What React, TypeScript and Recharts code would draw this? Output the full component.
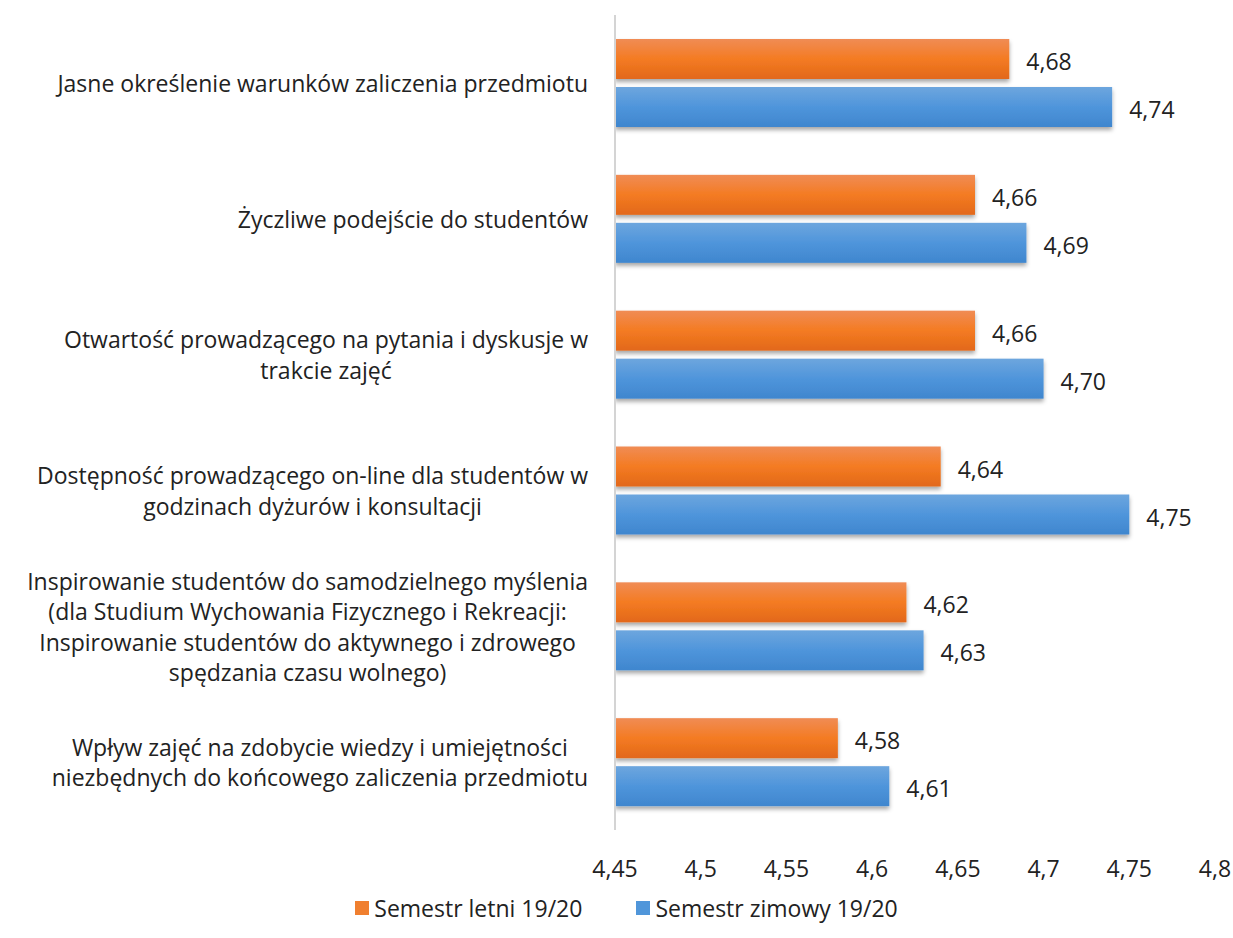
import React from "react";
import { BarChart, Bar, XAxis, YAxis, Legend, LabelList } from "recharts";

const categories = [
  "Jasne określenie warunków zaliczenia przedmiotu",
  "Życzliwe podejście do studentów",
  "Otwartość prowadzącego na pytania i dyskusje w\ntrakcie zajęć",
  "Dostępność prowadzącego on-line dla studentów w\ngodzinach dyżurów i konsultacji",
  "Inspirowanie studentów do samodzielnego myślenia\n(dla Studium Wychowania Fizycznego i Rekreacji:\nInspirowanie studentów do aktywnego i zdrowego\nspędzania czasu wolnego)",
  "Wpływ zajęć na zdobycie wiedzy i umiejętności\nniezbędnych do końcowego zaliczenia przedmiotu",
];
const letni = [4.68, 4.66, 4.66, 4.64, 4.62, 4.58];
const zimowy = [4.74, 4.69, 4.7, 4.75, 4.63, 4.61];
const xTicks = [4.45, 4.5, 4.55, 4.6, 4.65, 4.7, 4.75, 4.8];
const seriesNames = ["Semestr letni 19/20", "Semestr zimowy 19/20"];

const data = categories.map((c, i) => ({ name: c, letni: letni[i], zimowy: zimowy[i] }));

const FONT = "'Open Sans', sans-serif";
const FS = 23;
const TEXT = "#222";

let ctx: CanvasRenderingContext2D | null = null;
function measure(s: string): number {
  if (!ctx) {
    const c = document.createElement("canvas");
    ctx = c.getContext("2d");
  }
  if (!ctx) return s.length * FS * 0.5;
  ctx.font = `${FS}px 'Open Sans'`;
  return ctx.measureText(s).width;
}

const CatTick = (props: any) => {
  const { x, y, payload } = props;
  const lines: string[] = String(payload.value).split("\n");
  const maxW = Math.max(...lines.map(measure));
  const cx = x - maxW / 2;
  const lh = 30.5;
  const startY = y - ((lines.length - 1) * lh) / 2;
  return (
    <text x={cx} y={startY} textAnchor="middle" fontFamily={FONT} fontSize={FS} fill={TEXT} dominantBaseline="central">
      {lines.map((l, i) => (
        <tspan key={i} x={cx} y={startY + i * lh}>
          {l}
        </tspan>
      ))}
    </text>
  );
};

const fmt = (v: number) => v.toFixed(2).replace(".", ",");
const fmtTick = (v: number) => String(v).replace(".", ",");

const ValueLabel = (props: any) => {
  const { x, y, width, height, value } = props;
  return (
    <text x={x + width + 17} y={y + height / 2 + 2} fontFamily={FONT} fontSize={FS} fill={TEXT} dominantBaseline="central">
      {fmt(value)}
    </text>
  );
};

const makeShape = (grad: string) => (props: any) => {
  const { x, y, width, height } = props;
  return <rect x={x} y={y} width={Math.max(0, width)} height={height} fill={`url(#${grad})`} filter="url(#barShadow)" />;
};

const LegendContent = () => {
  const colors = ["#F07F2F", "#5096DA"];
  return (
    <div style={{ display: "flex", justifyContent: "center", alignItems: "center", gap: 54, fontFamily: FONT, fontSize: FS, color: TEXT, paddingLeft: 38 }}>
      {seriesNames.map((n, i) => (
        <div key={n} style={{ display: "flex", alignItems: "center" }}>
          <span style={{ display: "inline-block", width: 14, height: 14, background: colors[i], marginRight: 5 }} />
          <span>{n}</span>
        </div>
      ))}
    </div>
  );
};

export default function App() {
  return (
    <div style={{ position: "absolute", left: 0, top: 0, background: "#fff" }}>
      <BarChart
        width={1233}
        height={938}
        data={data}
        layout="vertical"
        margin={{ top: 15, right: 18, bottom: 2, left: 0 }}
        barCategoryGap={24}
        barGap={8}
        barSize={40}
      >
        <defs>
          <linearGradient id="gOrange" x1="0" y1="0" x2="0" y2="1">
            <stop offset="0%" stopColor="#F08C55" />
            <stop offset="50%" stopColor="#F47B22" />
            <stop offset="100%" stopColor="#E2681A" />
          </linearGradient>
          <linearGradient id="gBlue" x1="0" y1="0" x2="0" y2="1">
            <stop offset="0%" stopColor="#6DA6DE" />
            <stop offset="50%" stopColor="#4F95DB" />
            <stop offset="100%" stopColor="#3F86CE" />
          </linearGradient>
          <filter id="barShadow" x="-5%" y="-20%" width="110%" height="160%">
            <feDropShadow dx="0" dy="3" stdDeviation="2" floodColor="#000" floodOpacity="0.35" />
          </filter>
        </defs>
        <XAxis
          type="number"
          domain={[4.45, 4.8]}
          ticks={xTicks}
          tickFormatter={fmtTick}
          axisLine={false}
          tickLine={false}
          tickMargin={25}
          height={62}
          tick={{ fontFamily: FONT, fontSize: FS, fill: TEXT }}
          allowDataOverflow
        />
        <YAxis
          type="category"
          dataKey="name"
          width={615}
          axisLine={{ stroke: "#d4d4d4", strokeWidth: 2 }}
          tickLine={false}
          tickMargin={21}
          tick={<CatTick />}
          interval={0}
        />
        <Legend verticalAlign="bottom" height={44} content={<LegendContent />} />
        <Bar dataKey="letni" name={seriesNames[0]} isAnimationActive={false} shape={makeShape("gOrange")}>
          <LabelList dataKey="letni" content={<ValueLabel />} />
        </Bar>
        <Bar dataKey="zimowy" name={seriesNames[1]} isAnimationActive={false} shape={makeShape("gBlue")}>
          <LabelList dataKey="zimowy" content={<ValueLabel />} />
        </Bar>
      </BarChart>
    </div>
  );
}
